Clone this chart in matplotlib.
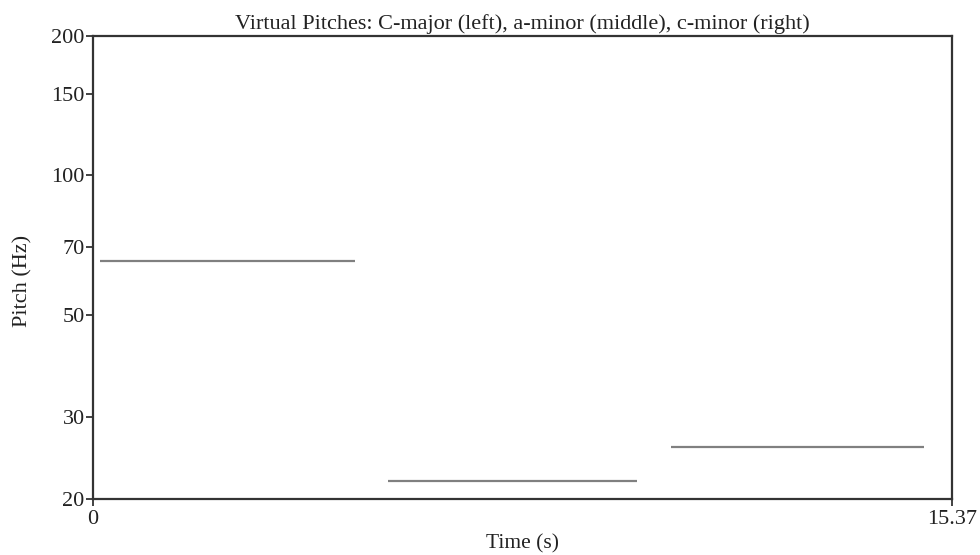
import matplotlib
matplotlib.use("Agg")
import matplotlib.pyplot as plt
from matplotlib.ticker import FixedLocator, FixedFormatter, NullLocator

# Data: virtual pitch segments
segment_names = ["C-major", "a-minor", "c-minor"]
seg_start = [0.125, 5.28, 10.34]   # s
seg_end = [4.69, 9.73, 14.87]      # s
seg_pitch = [65.41, 21.83, 25.96]  # Hz

x_min, x_max = 0.0, 15.37
y_min, y_max = 20, 200
y_ticks = [20, 30, 50, 70, 100, 150, 200]
x_ticks = [0, 15.37]
x_tick_labels = ["0", "15.37"]

plt.rcParams['font.family'] = ['Liberation Serif', 'DejaVu Serif']

fig = plt.figure(figsize=(9.8, 5.55), dpi=100)
ax = fig.add_axes([0.0949, 0.1009, 0.8765, 0.8342])

for s, e, p in zip(seg_start, seg_end, seg_pitch):
    ax.plot([s, e], [p, p], color="#808080", linewidth=1.6, solid_capstyle="butt")

ax.set_yscale("log")
ax.set_xlim(x_min, x_max)
ax.set_ylim(y_min, y_max)
ax.yaxis.set_major_locator(FixedLocator(y_ticks))
ax.yaxis.set_major_formatter(FixedFormatter([str(t) for t in y_ticks]))
ax.yaxis.set_minor_locator(NullLocator())
ax.set_xticks(x_ticks)
ax.set_xticklabels(x_tick_labels)

for sp in ax.spines.values():
    sp.set_color("#333333")
    sp.set_linewidth(1.6)

ax.tick_params(axis="both", direction="out", length=5, width=1.3, color="#333333",
               labelsize=16, labelcolor="#222222", pad=1)
ax.tick_params(axis="x", pad=3)

ax.set_title("Virtual Pitches: C-major (left), a-minor (middle), c-minor (right)",
             fontsize=16, color="#222222", pad=5)
ax.set_xlabel("Time (s)", fontsize=15.5, color="#222222", labelpad=4)
ax.set_ylabel("Pitch (Hz)", fontsize=16, color="#222222")
ax.yaxis.set_label_coords(-0.07, 0.47)

fig.savefig("out.png", dpi=100)
